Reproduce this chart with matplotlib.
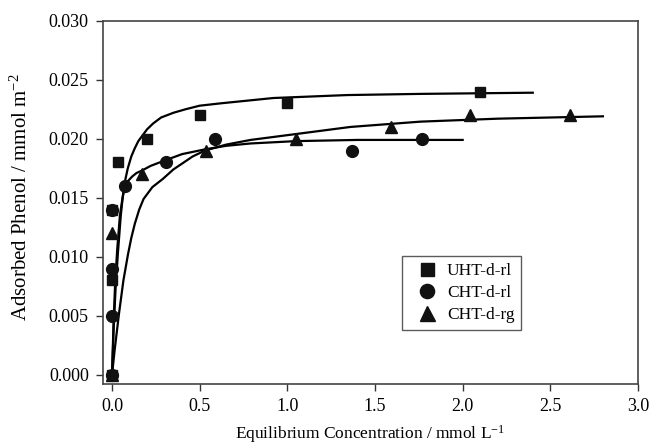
import numpy as np
import matplotlib
matplotlib.use("Agg")
import matplotlib.pyplot as plt
from matplotlib.ticker import FormatStrFormatter, MultipleLocator

plt.rcParams['font.family'] = ['Liberation Serif', 'DejaVu Serif']
plt.rcParams['mathtext.default'] = 'regular'

# measured isotherm points
uht_x = [0.0, 0.0, 0.0, 0.036, 0.197, 0.502, 0.997, 2.10]
uht_y = [0.000, 0.008, 0.014, 0.018, 0.020, 0.022, 0.023, 0.024]

chl_x = [0.0, 0.0, 0.0, 0.0, 0.074, 0.308, 0.587, 1.368, 1.767]
chl_y = [0.000, 0.005, 0.009, 0.014, 0.016, 0.018, 0.020, 0.019, 0.020]

chg_x = [0.0, 0.0, 0.169, 0.536, 1.05, 1.59, 2.04, 2.61]
chg_y = [0.000, 0.012, 0.017, 0.019, 0.020, 0.021, 0.022, 0.022]

# fitted isotherm curves
uht_fit_x = [0.0, 0.01, 0.02, 0.033, 0.05, 0.068, 0.09, 0.11, 0.13, 0.15,
             0.17, 0.20, 0.235, 0.28, 0.35, 0.42, 0.5, 0.62, 0.92, 1.34,
             1.76, 2.4]
uht_fit_y = [0.0, 0.0042, 0.0072, 0.0102, 0.0135, 0.0160, 0.0175, 0.0185,
             0.0192, 0.0198, 0.0202, 0.0208, 0.0213, 0.0218, 0.0222, 0.0225,
             0.0228, 0.0230, 0.02345, 0.0237, 0.0238, 0.0239]

chl_fit_x = [0.0, 0.008, 0.017, 0.029, 0.045, 0.06, 0.074, 0.09, 0.115,
             0.14, 0.17, 0.22, 0.29, 0.40, 0.53, 0.65, 0.79, 1.05, 1.4, 2.0]
chl_fit_y = [0.0, 0.0040, 0.0075, 0.0105, 0.0135, 0.0150, 0.0159, 0.0164,
             0.0168, 0.0171, 0.0173, 0.0177, 0.0181, 0.0187, 0.0191, 0.0194,
             0.0196, 0.0198, 0.0199, 0.0199]

chg_fit_x = [0.0, 0.015, 0.039, 0.065, 0.091, 0.11, 0.13, 0.155, 0.18,
             0.23, 0.29, 0.35, 0.40, 0.46, 0.53, 0.65, 0.79, 1.05, 1.36,
             1.76, 2.2, 2.8]
chg_fit_y = [0.0, 0.0021, 0.0051, 0.0080, 0.0102, 0.0116, 0.0128, 0.0140,
             0.0149, 0.0159, 0.0166, 0.0174, 0.0179, 0.0185, 0.0190, 0.0195,
             0.0199, 0.0204, 0.0210, 0.02145, 0.0217, 0.0219]

fig = plt.figure(figsize=(6.51, 4.45), dpi=100)
ax = fig.add_axes([0.1578, 0.1364, 0.8222, 0.8171])

ax.plot(uht_fit_x, uht_fit_y, color='black', lw=1.6)
ax.plot(chl_fit_x, chl_fit_y, color='black', lw=1.6)
ax.plot(chg_fit_x, chg_fit_y, color='black', lw=1.6)

ax.plot(uht_x, uht_y, 's', color='#111111', ms=7.8, ls='none', label='UHT-d-rl')
ax.plot(chl_x, chl_y, 'o', color='#111111', ms=8.5, ls='none', label='CHT-d-rl')
ax.plot(chg_x, chg_y, '^', color='#111111', ms=9, ls='none', label='CHT-d-rg')

ax.set_xlim(-0.053, 3.0)
ax.set_ylim(-0.0008, 0.030)
ax.xaxis.set_major_locator(MultipleLocator(0.5))
ax.yaxis.set_major_locator(MultipleLocator(0.005))
ax.xaxis.set_major_formatter(FormatStrFormatter('%.1f'))
ax.yaxis.set_major_formatter(FormatStrFormatter('%.3f'))
ax.tick_params(direction='out', length=5, width=1.0, color='#333333',
               labelsize=13, pad=5)

for side in ax.spines.values():
    side.set_color('#444444')
    side.set_linewidth(1.2)

ax.set_xlabel(r'Equilibrium Concentration / mmol L$^{-1}$', fontsize=12.5, labelpad=6)
ax.set_ylabel(r'Adsorbed Phenol / mmol m$^{-2}$', fontsize=15)
ax.yaxis.set_label_coords(-0.133, 0.515)

leg = ax.legend(loc='lower left', bbox_to_anchor=(0.5586, 0.1493),
                borderaxespad=0, numpoints=1, markerscale=1.2, fontsize=12.5,
                fancybox=False, frameon=True, handlelength=2.1,
                handletextpad=0.1, labelspacing=0.35, borderpad=0.4)
leg.get_frame().set_edgecolor('#333333')
leg.get_frame().set_linewidth(1.0)

fig.savefig('out.png', dpi=100)
